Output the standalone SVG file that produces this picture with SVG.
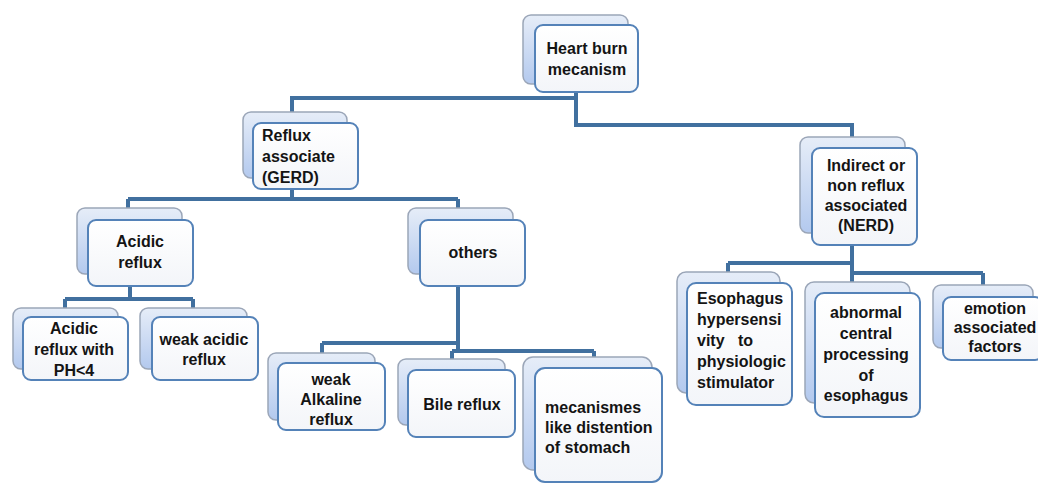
<svg xmlns="http://www.w3.org/2000/svg" width="1038" height="484" viewBox="0 0 1038 484">
<defs>
<linearGradient id="gBack" x1="0" y1="0" x2="0" y2="1">
<stop offset="0" stop-color="#e6edf8"/>
<stop offset="1" stop-color="#b3c9ee"/>
</linearGradient>
<linearGradient id="gFront" x1="0" y1="0" x2="0" y2="1">
<stop offset="0" stop-color="#ffffff"/>
<stop offset="1" stop-color="#f3f5f9"/>
</linearGradient>
<style>
.back{fill:url(#gBack);stroke:#9ba6b8;stroke-width:1.5}
.front{fill:url(#gFront);stroke:#5482b8;stroke-width:2}
.t{font-family:"Liberation Sans",Arial,sans-serif;font-size:16px;font-weight:bold;fill:#141414}
.c{text-anchor:middle}
.conn path{fill:none;stroke:#41709f;stroke-width:4;stroke-linejoin:miter}
</style>
</defs>
<rect width="1038" height="484" fill="#ffffff"/>
<g class="conn" id="connectors">
<path d="M576,92 V125 H852 V140"/>
<path d="M576,98 H292 V114"/>
<path d="M292,188 V199 M128,199 H458 M128,199 V210 M458,199 V210"/>
<path d="M130,286 V299 M65,299 H193 M65,299 V310 M193,299 V310"/>
<path d="M458,286 V351 M322,343 H458 M322,343 V356 M452,351 H594 M452,351 V362 M594,351 V360"/>
<path d="M852,245 V283 M728,263 H852 M728,263 V274 M852,273 H983 M983,273 V287"/>
</g>
<g id="n-heartburn">
<rect class="back" x="523" y="15" width="105" height="69" rx="8"/>
<rect class="front" x="535" y="25" width="103" height="67" rx="8"/>
<text class="t c" x="587" y="54">Heart burn</text>
<text class="t c" x="587" y="75">mecanism</text>
</g>
<g id="n-reflux">
<rect class="back" x="243" y="112" width="104" height="66" rx="8"/>
<rect class="front" x="253" y="123" width="105" height="66" rx="8"/>
<text class="t" x="262" y="141">Reflux</text>
<text class="t" x="262" y="162">associate</text>
<text class="t" x="262" y="183">(GERD)</text>
</g>
<g id="n-indirect">
<rect class="back" x="800" y="137" width="105" height="96" rx="8"/>
<rect class="front" x="812" y="148" width="105" height="97" rx="8"/>
<text class="t c" x="866" y="171">Indirect or</text>
<text class="t c" x="866" y="191">non reflux</text>
<text class="t c" x="866" y="211">associated</text>
<text class="t c" x="866" y="231">(NERD)</text>
</g>
<g id="n-acidic">
<rect class="back" x="77" y="208" width="105" height="66" rx="8"/>
<rect class="front" x="88" y="220" width="105" height="66" rx="8"/>
<text class="t c" x="140" y="247">Acidic</text>
<text class="t c" x="140" y="268">reflux</text>
</g>
<g id="n-others">
<rect class="back" x="408" y="208" width="105" height="66" rx="8"/>
<rect class="front" x="420" y="220" width="105" height="66" rx="8"/>
<text class="t c" x="473" y="258">others</text>
</g>
<g id="n-ph4">
<rect class="back" x="13" y="308" width="105" height="61" rx="8"/>
<rect class="front" x="23" y="317" width="105" height="63" rx="8"/>
<text class="t c" x="74" y="334">Acidic</text>
<text class="t c" x="74" y="355">reflux with</text>
<text class="t c" x="74" y="376">PH&lt;4</text>
</g>
<g id="n-weakacidic">
<rect class="back" x="140" y="308" width="107" height="61" rx="8"/>
<rect class="front" x="152" y="317" width="106" height="63" rx="8"/>
<text class="t c" x="204" y="345">weak acidic</text>
<text class="t c" x="204" y="365">reflux</text>
</g>
<g id="n-alkaline">
<rect class="back" x="268" y="353" width="107" height="67" rx="8"/>
<rect class="front" x="278" y="363" width="107" height="67" rx="8"/>
<text class="t c" x="331" y="385">weak</text>
<text class="t c" x="331" y="405">Alkaline</text>
<text class="t c" x="331" y="425">reflux</text>
</g>
<g id="n-bile">
<rect class="back" x="398" y="359" width="107" height="66" rx="8"/>
<rect class="front" x="408" y="370" width="107" height="67" rx="8"/>
<text class="t c" x="462" y="410">Bile reflux</text>
</g>
<g id="n-mecanismes">
<rect class="back" x="523" y="357" width="129" height="113" rx="10"/>
<rect class="front" x="535" y="368" width="127" height="114" rx="10"/>
<text class="t" x="545" y="413">mecanismes</text>
<text class="t" x="545" y="433">like distention</text>
<text class="t" x="545" y="453">of stomach</text>
</g>
<g id="n-esophagus">
<rect class="back" x="677" y="272" width="103" height="121" rx="9"/>
<rect class="front" x="687" y="283" width="105" height="122" rx="9"/>
<text class="t" x="697" y="304">Esophagus</text>
<text class="t" x="697" y="325">hypersensi</text>
<text class="t" x="697" y="346" xml:space="preserve">vity   to</text>
<text class="t" x="697" y="367">physiologic</text>
<text class="t" x="697" y="388">stimulator</text>
</g>
<g id="n-abnormal">
<rect class="back" x="805" y="282" width="105" height="121" rx="9"/>
<rect class="front" x="815" y="293" width="105" height="124" rx="9"/>
<text class="t c" x="866" y="318">abnormal</text>
<text class="t c" x="866" y="339">central</text>
<text class="t c" x="866" y="360">processing</text>
<text class="t c" x="866" y="381">of</text>
<text class="t c" x="866" y="401">esophagus</text>
</g>
<g id="n-emotion">
<rect class="back" x="933" y="285" width="100" height="63" rx="8"/>
<rect class="front" x="943" y="297" width="100" height="63" rx="8"/>
<text class="t c" x="995" y="314">emotion</text>
<text class="t c" x="995" y="333">associated</text>
<text class="t c" x="995" y="352">factors</text>
</g>
</svg>
